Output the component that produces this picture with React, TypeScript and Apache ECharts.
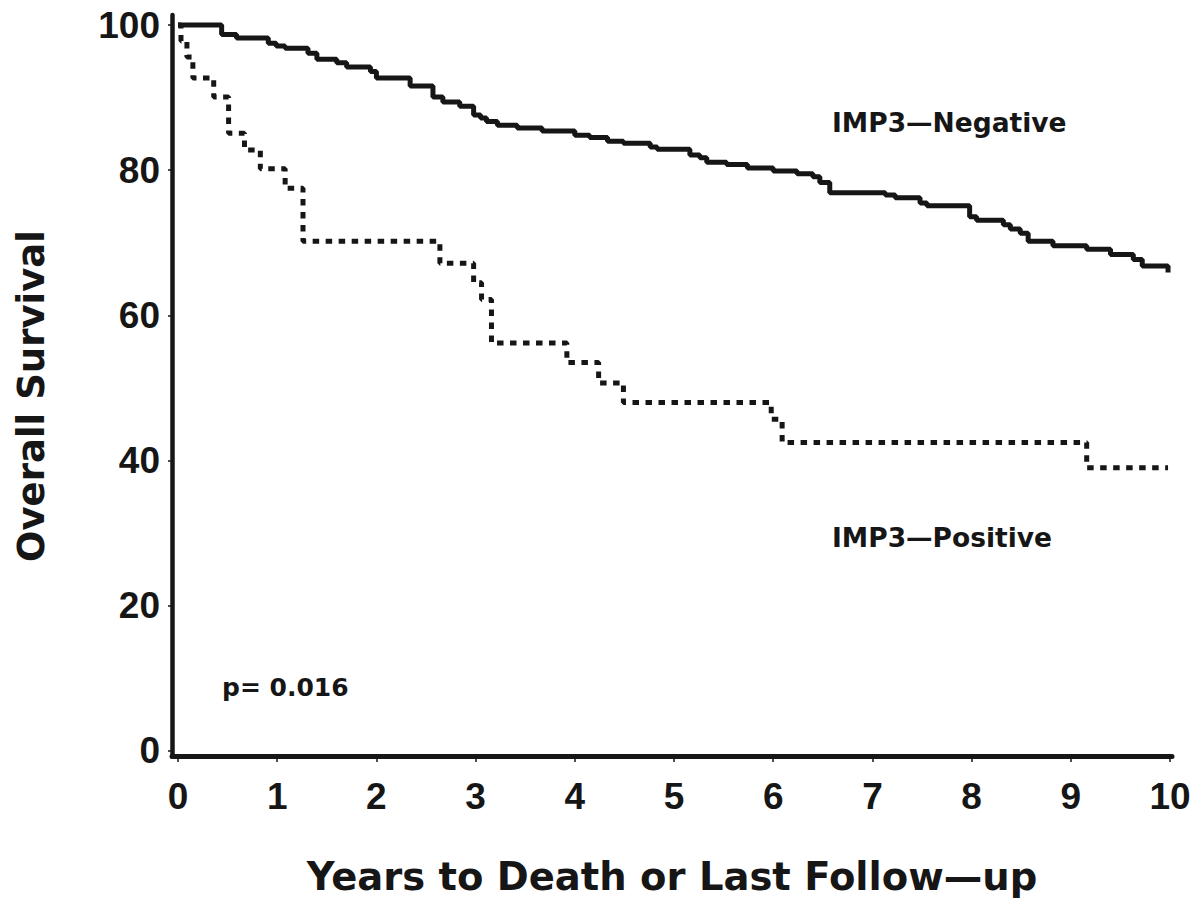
import React, { useEffect, useRef } from "react";
import * as echarts from "echarts";

// Kaplan-Meier steps (years, % surviving)
const negTimes = [0, 0.44, 0.59, 0.91, 0.99, 1.08, 1.31, 1.4, 1.6, 1.7, 1.94, 2.0, 2.34, 2.57, 2.67, 2.84, 2.98, 3.05, 3.11, 3.22, 3.42, 3.67, 4.0, 4.15, 4.33, 4.49, 4.76, 4.83, 5.16, 5.26, 5.33, 5.53, 5.74, 6.0, 6.24, 6.4, 6.47, 6.57, 7.13, 7.23, 7.48, 7.55, 7.98, 8.05, 8.32, 8.39, 8.49, 8.57, 8.82, 9.16, 9.4, 9.63, 9.72, 9.98];
const negSurv = [100, 98.7, 98.2, 97.5, 97.1, 96.8, 96.1, 95.3, 94.8, 94.2, 93.6, 92.7, 91.6, 90.1, 89.4, 88.8, 87.6, 87.2, 86.7, 86.2, 85.8, 85.4, 84.8, 84.5, 84.0, 83.7, 83.2, 82.9, 82.1, 81.7, 81.1, 80.8, 80.3, 79.9, 79.5, 79.1, 78.3, 76.9, 76.6, 76.2, 75.5, 75.1, 73.6, 73.1, 72.5, 71.9, 71.3, 70.2, 69.6, 69.1, 68.4, 67.7, 66.8, 65.9];

const posTimes = [0, 0.03, 0.09, 0.15, 0.36, 0.51, 0.67, 0.83, 1.08, 1.26, 2.64, 2.98, 3.06, 3.16, 3.92, 4.24, 4.49, 5.98, 6.09, 9.16, 9.98];
const posSurv = [100, 97.8, 95.6, 92.7, 90.1, 85.1, 82.8, 80.2, 77.5, 70.2, 67.2, 64.5, 62.2, 56.2, 53.5, 50.7, 48.0, 45.7, 42.5, 39.0, 39.0];

const xTicks = [0, 1, 2, 3, 4, 5, 6, 7, 8, 9, 10];
const yTicks = [0, 20, 40, 60, 80, 100];

const xTitle = "Years to Death or Last Follow\u2014up";
const yTitle = "Overall Survival";
const negLabel = "IMP3\u2014Negative";
const posLabel = "IMP3\u2014Positive";
const pLabel = "p= 0.016";

const INK = "#161616";

export default function App() {
  const ref = useRef<HTMLDivElement>(null);
  useEffect(() => {
    if (!ref.current) return;
    const chart = echarts.init(ref.current, null, { renderer: "svg" });
    const negData = negTimes.map((t, i) => [t, negSurv[i]]);
    const posData = posTimes.map((t, i) => [t, posSurv[i]]);
    const tickFont = {
      fontFamily: "'Liberation Sans', Arial, sans-serif",
      fontWeight: "bold" as const,
      fontSize: 37,
      color: INK,
    };
    const titleFont = {
      fontFamily: "'DejaVu Sans', sans-serif",
      fontWeight: "bold" as const,
      color: INK,
    };
    chart.setOption({
      animation: false,
      backgroundColor: "#ffffff",
      grid: { left: 172, right: 29, top: 15, bottom: 144, containLabel: false },
      xAxis: {
        type: "value",
        min: -0.0605,
        max: 10.02,
        name: xTitle,
        nameLocation: "middle",
        nameGap: 101,
        nameTextStyle: { ...titleFont, fontSize: 38.5 },
        axisLine: { show: true, onZero: false, lineStyle: { color: INK, width: 5 } },
        axisTick: { show: true, customValues: xTicks, length: 6, lineStyle: { color: INK, width: 1.5 } },
        axisLabel: { customValues: xTicks, margin: 22, ...tickFont },
        splitLine: { show: false },
      },
      yAxis: {
        type: "value",
        min: -0.69,
        max: 101.38,
        axisLine: { show: true, onZero: false, lineStyle: { color: INK, width: 4.5 } },
        axisTick: { show: true, customValues: yTicks, length: 4, lineStyle: { color: INK, width: 1.5 } },
        axisLabel: { customValues: yTicks, margin: 12, ...tickFont },
        splitLine: { show: false },
      },
      series: [
        {
          name: negLabel,
          type: "line",
          step: "end",
          data: negData,
          showSymbol: false,
          symbol: "none",
          lineStyle: { color: INK, width: 5, type: "solid" },
          z: 3,
        },
        {
          name: posLabel,
          type: "line",
          step: "end",
          data: posData,
          showSymbol: false,
          symbol: "none",
          lineStyle: { color: INK, width: 5, type: [6.5, 6.5] },
          z: 3,
        },
      ],
      graphic: [
        {
          type: "text",
          x: 31,
          y: 396,
          rotation: Math.PI / 2,
          style: {
            text: yTitle,
            ...titleFont,
            fontSize: 37,
            fill: INK,
            align: "center",
            verticalAlign: "middle",
          },
        },
        {
          type: "text",
          left: 832,
          top: 109,
          style: { text: negLabel, ...titleFont, fontSize: 26.5, fill: INK },
        },
        {
          type: "text",
          left: 832,
          top: 524,
          style: { text: posLabel, ...titleFont, fontSize: 26.5, fill: INK },
        },
        {
          type: "text",
          left: 222,
          top: 675,
          style: { text: pLabel, ...titleFont, fontSize: 25, fill: INK },
        },
      ],
    });
    return () => chart.dispose();
  }, []);
  return (
    <div
      ref={ref}
      style={{ position: "fixed", left: 0, top: 0, width: 1201, height: 901, background: "#fff" }}
    />
  );
}
